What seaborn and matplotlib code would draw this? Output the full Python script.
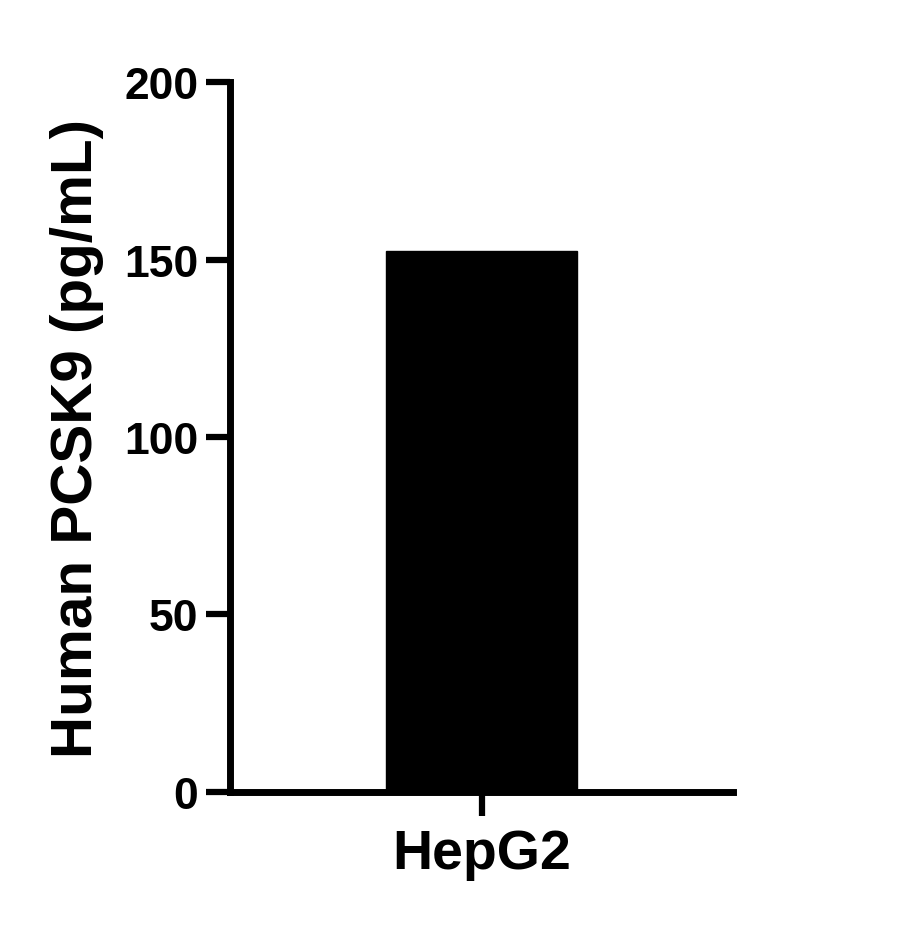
import matplotlib
matplotlib.use("Agg")
import matplotlib.pyplot as plt
import seaborn as sns
import pandas as pd

# data
cell_lines = ["HepG2"]
pcsk9_pg_ml = [152.5]
y_ticks = [0, 50, 100, 150, 200]

df = pd.DataFrame({"cell": cell_lines, "pcsk9": pcsk9_pg_ml})

sns.set_theme(style="ticks")
plt.rcParams["font.family"] = ["Liberation Sans", "DejaVu Sans"]
plt.rcParams["font.weight"] = "bold"
plt.rcParams["text.color"] = "black"
plt.rcParams["axes.labelcolor"] = "black"
plt.rcParams["xtick.color"] = "black"
plt.rcParams["ytick.color"] = "black"

fig = plt.figure(figsize=(9.13, 9.28), dpi=100)
ax = fig.add_axes([0.252, 0.1455, 0.551, 0.765])

sns.barplot(data=df, x="cell", y="pcsk9", color="black", width=0.38,
            saturation=1, ax=ax, edgecolor="black")

ax.set_xlim(-0.5, 0.5)
ax.set_ylim(0, 200)
ax.set_yticks(y_ticks)
ax.set_yticklabels([str(t) for t in y_ticks], fontsize=32, fontweight="bold",
                   color="black")
ax.set_xticks(range(len(cell_lines)))
ax.set_xticklabels(cell_lines, fontsize=40, fontweight="bold", color="black")
ax.set_xlabel("")
ax.set_ylabel("Human PCSK9 (pg/mL)", fontsize=42, fontweight="bold",
              labelpad=14, color="black")

sns.despine(ax=ax)
for side in ["left", "bottom"]:
    ax.spines[side].set_linewidth(5)
    ax.spines[side].set_color("black")
ax.tick_params(axis="both", length=17, width=4.5, color="black", pad=6)
ax.tick_params(axis="x", pad=9)

fig.savefig("out.png", dpi=100)
